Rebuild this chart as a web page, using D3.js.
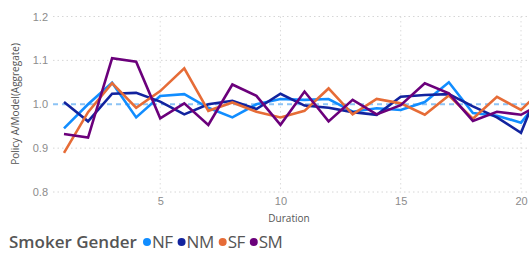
<!DOCTYPE html>
<html>
<head>
<meta charset="utf-8">
<script src="https://cdn.jsdelivr.net/npm/d3@7"></script>
<style>
  body { margin: 0; background: #fff; }
  svg { display: block; font-family: "Open Sans", "Noto Sans", sans-serif; }
</style>
</head>
<body>
<div id="chart"></div>
<script>
// Duration 1..21 (21 only partly visible at the right edge)
const durations = d3.range(1, 22);
const nfValues = [0.945, 1.000, 1.049, 0.970, 1.019, 1.023, 0.992, 0.970, 1.000, 1.012, 1.010, 1.012, 0.983, 0.991, 0.987, 1.005, 1.050, 0.980, 0.974, 0.958, 1.026];
const nmValues = [1.005, 0.961, 1.024, 1.026, 1.006, 0.977, 1.000, 1.008, 0.989, 1.024, 0.997, 0.992, 0.982, 0.976, 1.017, 1.021, 1.023, 0.995, 0.970, 0.935, 1.070];
const sfValues = [0.889, 0.982, 1.048, 0.992, 1.030, 1.082, 0.985, 1.004, 0.983, 0.970, 0.985, 1.036, 0.977, 1.012, 1.002, 0.976, 1.020, 0.967, 1.017, 0.987, 1.040];
const smValues = [0.932, 0.924, 1.105, 1.097, 0.968, 1.002, 0.953, 1.045, 1.019, 0.953, 1.029, 0.961, 1.010, 0.977, 0.998, 1.048, 1.025, 0.962, 0.983, 0.976, 1.005];

const seriesNames = ['NF', 'NM', 'SF', 'SM'];
const seriesColors = ['#118DFF', '#12239E', '#E66C37', '#6B007B'];
const yTicks = [0.8, 0.9, 1.0, 1.1, 1.2];
const xTicks = [5, 10, 15, 20];
const refValue = 1.0;

const width = 529, height = 253;
const margin = { top: 17, right: 0, bottom: 61, left: 53 };

const series = [nfValues, nmValues, sfValues, smValues].map((vals, i) => ({
  name: seriesNames[i],
  color: seriesColors[i],
  values: vals.map((v, j) => ({ d: durations[j], v }))
}));

const svg = d3.select('#chart').append('svg')
  .attr('width', width)
  .attr('height', height);

const x = d3.scaleLinear().domain([1, 20]).range([64, 521]);
const y = d3.scaleLinear().domain([0.8, 1.2]).range([192, 16.5]);

// Horizontal grid (dotted)
svg.append('g')
  .selectAll('line')
  .data(yTicks.filter(t => t !== refValue))
  .enter().append('line')
  .attr('x1', margin.left).attr('x2', width)
  .attr('y1', d => y(d)).attr('y2', d => y(d))
  .attr('stroke', '#d6d6d6')
  .attr('stroke-width', 1)
  .attr('stroke-dasharray', '1.5,3');

// Vertical grid (dotted)
svg.append('g')
  .selectAll('line')
  .data(xTicks)
  .enter().append('line')
  .attr('x1', d => x(d)).attr('x2', d => x(d))
  .attr('y1', y(1.2)).attr('y2', y(0.8))
  .attr('stroke', '#dcdcdc')
  .attr('stroke-width', 1)
  .attr('stroke-dasharray', '1.5,3');

// Reference line at 1.0
svg.append('line')
  .attr('x1', margin.left).attr('x2', width)
  .attr('y1', y(refValue)).attr('y2', y(refValue))
  .attr('stroke', '#8cc3f5')
  .attr('stroke-width', 2)
  .attr('stroke-dasharray', '5,4');

// Y tick labels
const yAxis = d3.axisLeft(y).tickValues(yTicks).tickFormat(d3.format('.1f')).tickSize(0).tickPadding(0);
const yg = svg.append('g').attr('transform', 'translate(48,0)').call(yAxis);
yg.select('.domain').remove();
yg.selectAll('text').attr('fill', '#8c8c8c').attr('font-size', '11px');

// X tick labels
const xAxis = d3.axisBottom(x).tickValues(xTicks).tickSize(0).tickPadding(0);
const xg = svg.append('g').attr('transform', 'translate(0,197)').call(xAxis);
xg.select('.domain').remove();
xg.selectAll('text').attr('fill', '#8c8c8c').attr('font-size', '11px');

// Axis titles
svg.append('text')
  .attr('x', 289).attr('y', 222)
  .attr('text-anchor', 'middle')
  .attr('font-size', '10px')
  .attr('fill', '#555')
  .text('Duration');

svg.append('text')
  .attr('transform', 'translate(19,104) rotate(-90)')
  .attr('text-anchor', 'middle')
  .attr('font-size', '10px')
  .attr('fill', '#555')
  .text('Policy A/Model(Aggregate)');

// Lines
const line = d3.line().x(p => x(p.d)).y(p => y(p.v));
svg.append('g')
  .selectAll('path')
  .data(series)
  .enter().append('path')
  .attr('d', s => line(s.values))
  .attr('fill', 'none')
  .attr('stroke', s => s.color)
  .attr('stroke-width', 2.6)
  .attr('stroke-linejoin', 'miter');

// Legend
const legend = svg.append('g').attr('transform', 'translate(9,248)');
legend.append('text')
  .attr('x', 0).attr('y', 0)
  .attr('font-size', '17px')
  .attr('font-weight', 600)
  .attr('fill', '#555')
  .text('Smoker Gender');

// items laid out one after another, starting just right of the title
let cursor = 138;
series.forEach(s => {
  const item = legend.append('g').attr('transform', `translate(${cursor},0)`);
  item.append('circle')
    .attr('cx', 0).attr('cy', -6)
    .attr('r', 4)
    .attr('fill', s.color);
  const t = item.append('text')
    .attr('x', 5).attr('y', 0)
    .attr('font-size', '17px')
    .attr('letter-spacing', '-0.5px')
    .attr('fill', '#555')
    .text(s.name);
  cursor += 5 + t.node().getComputedTextLength() + 9;
});
</script>
</body>
</html>
